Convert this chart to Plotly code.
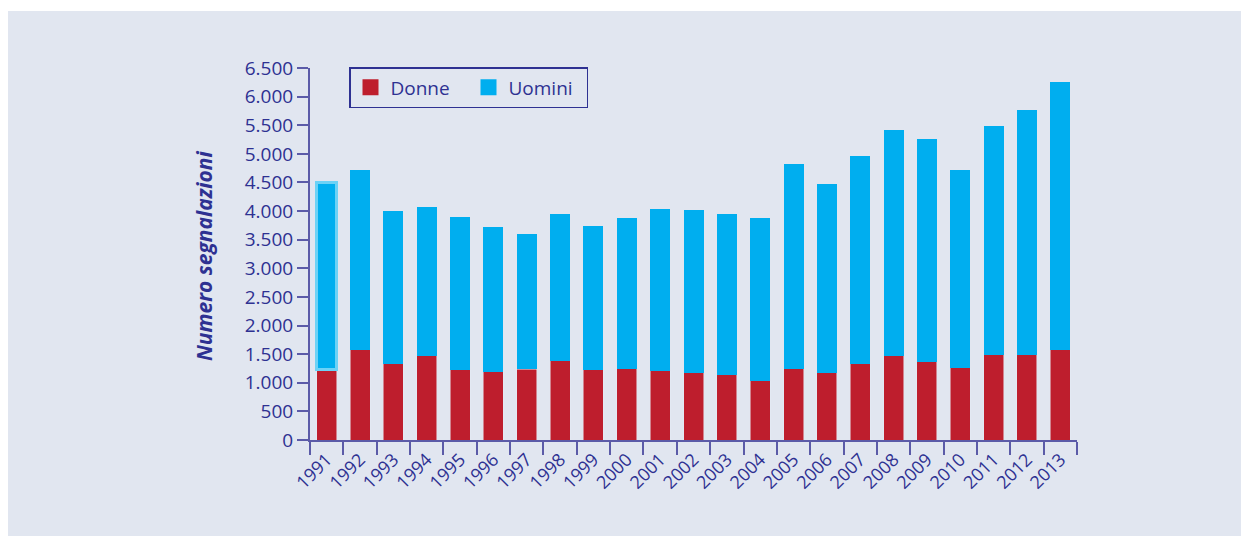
import plotly.graph_objects as go

# Data
anni = [str(a) for a in range(1991, 2014)]
donne = [1230, 1580, 1330, 1470, 1230, 1190, 1240, 1385, 1230, 1245, 1210, 1175,
         1140, 1035, 1245, 1175, 1330, 1470, 1365, 1260, 1490, 1490, 1580]
uomini = [3270, 3140, 2670, 2600, 2670, 2530, 2360, 2565, 2510, 2635, 2830, 2845,
          2810, 2845, 3575, 3295, 3630, 3945, 3895, 3460, 3995, 4275, 4670]
serie = ["Donne", "Uomini"]
colori = ["#be1e2d", "#00aeef"]
y_ticks = list(range(0, 7000, 500))
y_labels = [f"{v:,}".replace(",", ".") for v in y_ticks]

NAVY = "#2e3192"
AXIS = "#5b5ba8"
PANEL = "#e1e6f0"
FONT = "Open Sans"

# the page has an 8px body margin, so the figure starts at (8, 8)
OFF = 8
W, H = 1249 - OFF, 536 - OFF
L, R, T, B = 310 - OFF, 172, 68 - OFF, 96
pw, ph = W - L - R, H - T - B

def px_x(x):
    # page pixel -> paper coordinate
    return (x - OFF - L) / pw

def px_y(y):
    return (H - B - (y - OFF)) / ph

fig = go.Figure()
fig.add_trace(go.Bar(x=anni, y=donne, name=serie[0], marker_color=colori[0],
                     showlegend=False))
fig.add_trace(go.Bar(
    x=anni, y=uomini, name=serie[1], marker_color=colori[1],
    marker_line_color="#6cd2f6",
    marker_line_width=[2.5] + [0] * (len(anni) - 1),
    showlegend=False,
))
# legend entries with bigger square swatches
for nome, col in zip(serie, colori):
    fig.add_trace(go.Scatter(x=[None], y=[None], mode="markers", name=nome,
                             marker=dict(symbol="square", size=20, color=col)))

fig.add_shape(type="rect", xref="paper", yref="paper", layer="below",
              x0=px_x(8), x1=px_x(1260), y0=px_y(545), y1=px_y(11),
              fillcolor=PANEL, line_width=0)

fig.add_annotation(text="<b><i>Numero segnalazioni</i></b>", textangle=-90,
                   xref="paper", yref="paper", x=px_x(188), y=px_y(256),
                   showarrow=False, font=dict(family=FONT, size=21, color=NAVY))

fig.update_layout(
    width=W, height=H,
    barmode="stack", bargap=0.4,
    paper_bgcolor="white", plot_bgcolor="rgba(0,0,0,0)",
    margin=dict(l=L, r=R, t=T, b=B, pad=0),
    font=dict(family=FONT, size=18, color=NAVY),
    showlegend=True,
    legend=dict(orientation="h", x=px_x(349), y=px_y(67),
                xanchor="left", yanchor="top",
                bgcolor="rgba(0,0,0,0)", bordercolor=NAVY, borderwidth=1.5,
                font=dict(family=FONT, size=19, color=NAVY),
                itemwidth=30, entrywidth=73, traceorder="normal"),
    xaxis=dict(
        type="category", tickson="boundaries", tickangle=-45,
        ticks="outside", ticklen=13, tickwidth=2, tickcolor=AXIS,
        showline=True, linecolor=AXIS, linewidth=2,
        showgrid=False, zeroline=False,
        tickfont=dict(family=FONT, size=18, color=NAVY),
    ),
    yaxis=dict(
        range=[0, 6500], tickvals=y_ticks, ticktext=y_labels,
        ticks="outside", ticklen=11, tickwidth=2, tickcolor=AXIS,
        showline=True, linecolor=AXIS, linewidth=2,
        showgrid=False, zeroline=False,
        tickfont=dict(family=FONT, size=19, color=NAVY),
    ),
)

fig.write_html("out.html")
